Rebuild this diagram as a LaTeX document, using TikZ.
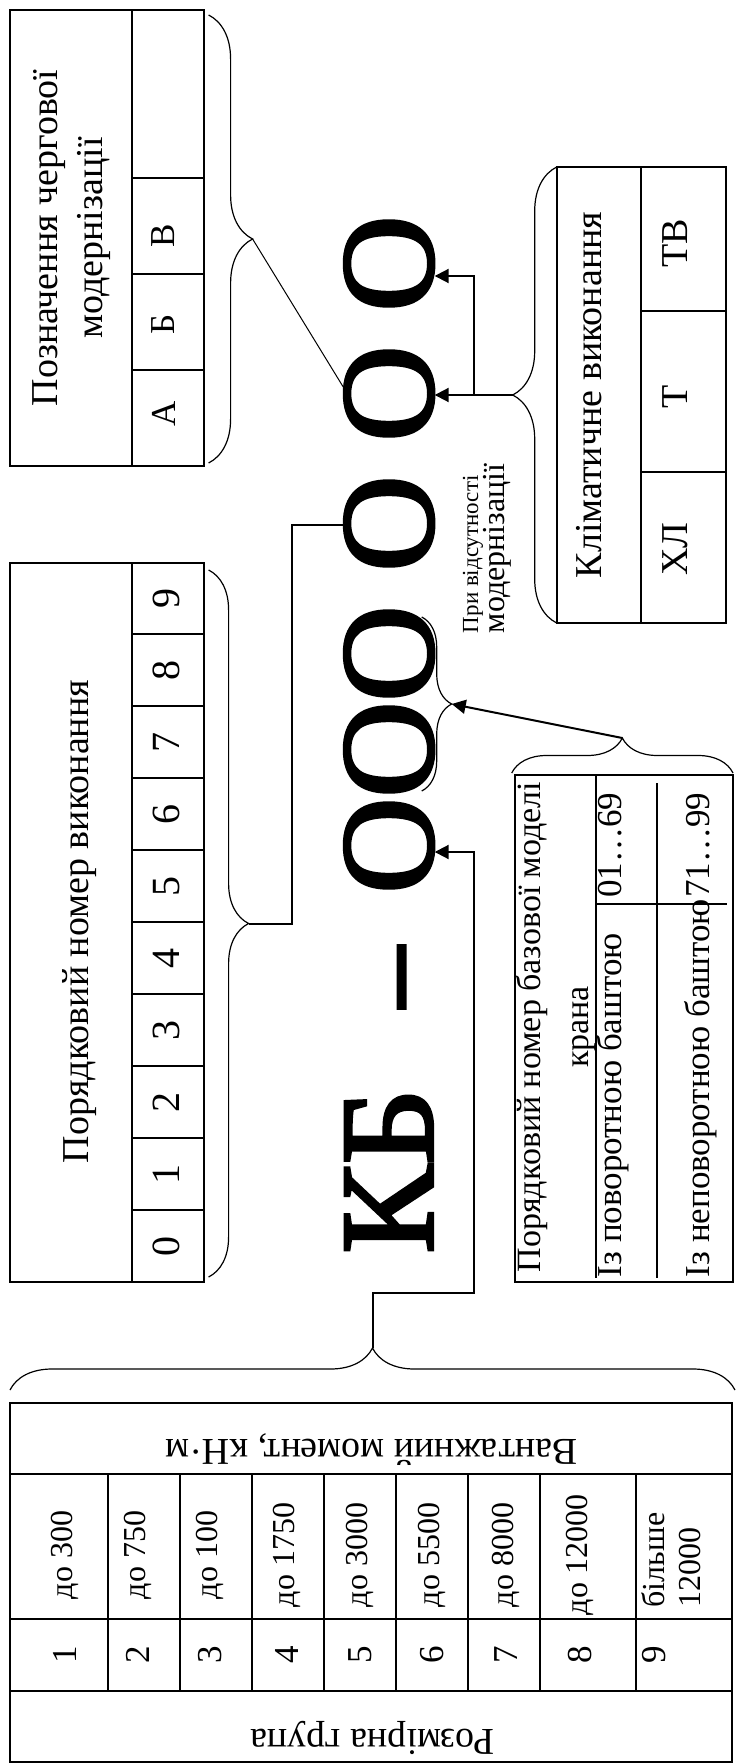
\documentclass[tikz,border=0pt]{standalone}
\usepackage{fontspec}
\setmainfont{Liberation Serif}
\font\heavyfont="Liberation Serif:embolden=2.5" at 66.5pt
\usetikzlibrary{decorations.pathreplacing,arrows.meta,calc}

\begin{document}
\begin{tikzpicture}[x=0.5pt, y=-0.5pt, line width=0.9pt,
    every node/.style={inner sep=0pt, font=\fontsize{17.5}{21}\selectfont},
    up/.style={rotate=90},
    hdr/.style={font=\fontsize{19}{22.5}\selectfont},
    sm/.style={font=\fontsize{16}{18}\selectfont},
    dig/.style={font=\fontsize{20}{24}\selectfont},
    big/.style={rotate=90, anchor=base, font=\heavyfont},
    brc/.style={decorate, decoration={brace, amplitude=#1}, line width=0.6pt},
    conn/.style={line width=1pt},
    arr/.style={-{Triangle[length=7pt,width=7pt]}, line width=1pt}]
  \useasboundingbox (0,0) rectangle (735,1764);

  % the designation itself
  \node[big] (kb) at (432.5,1171) {КБ};
  \node[big, xscale=0.92] (dash) at (432.5,977) {–};
  \node[big] (o1) at (432.5,845.5) {О};
  \node[big] (o2) at (432.5,749.5) {О};
  \node[big] (o3) at (432.5,653.5) {О};
  \node[big] (o4) at (432.5,523.5) {О};
  \node[big] (o5) at (432.5,393.5) {О};
  \node[big] (o6) at (432.5,263.5) {О};

  % Позначення чергової модернізації
  \draw (10,10) rectangle (204,466);
  \draw (132,10) -- (132,466);
  \foreach \y in {178,274,370} \draw (132,\y) -- (204,\y);
  \node[up, hdr, align=center] (mhead) at (72,238) {Позначення чергової\\модернізації};
  \node[up] (mv) at (163.5,236) {В};
  \node[up] (mb) at (163.5,324) {Б};
  \node[up] (ma) at (163.5,414) {А};
  \draw[brc=22pt] (208.6,15) -- (208.6,463);
  \coordinate (mt) at (252.6,239);

  % Порядковий номер виконання
  \draw (10,563) rectangle (204,1282);
  \draw (132,563) -- (132,1282);
  \foreach \k in {1,...,9} \draw (132,{1282-72*\k}) -- (204,{1282-72*\k});
  \foreach \k in {0,...,9} \node[up, dig] (n\k) at (166.5,{1246-72*\k}) {\k};
  \node[up, hdr, anchor=base] (nhead) at (88,921.5) {Порядковий номер виконання};
  \draw[brc=20pt] (208.6,570) -- (208.6,1277);
  \coordinate (pt) at (248.6,923.5);

  % Кліматичне виконання
  \draw (556.7,167) rectangle (726,623);
  \draw (640.7,167) -- (640.7,623);
  \foreach \y in {311,472} \draw (640.7,\y) -- (726,\y);
  \node[up, hdr, anchor=base] (khead) at (601,395) {Кліматичне виконання};
  \node[up, hdr, anchor=base] (k1) at (687,243) {ТВ};
  \node[up, hdr, anchor=base] (k2) at (687,397) {Т};
  \node[up, hdr, anchor=base] (k3) at (687,549) {ХЛ};
  \draw[brc=22pt] (556.7,623) -- (556.7,167);
  \coordinate (kt) at (512.7,395);

  % При відсутності модернізації
  \node[up, anchor=base west, font=\fontsize{11.5}{13}\selectfont] (pv1) at (478,634) {При відсутності};
  \node[up, sm, anchor=base west] (pv2) at (504,634) {модернізації};

  % Порядковий номер базової моделі
  \draw (515,775) rectangle (733,1282);
  \draw (596,775) -- (596,1278);
  \draw (656.7,783) -- (656.7,1278);
  \draw (596,904) -- (726.7,904);
  \node[up, align=center, font=\fontsize{17}{24}\selectfont] (bhead) at (556,1027) {Порядковий номер базової моделі\\крана};
  \node[up, anchor=base west] (r1) at (621,1278) {Із поворотною баштою};
  \node[up, anchor=base] (v1) at (621,845) {01…69};
  \node[up, anchor=base west] (r2) at (709,1278) {Із неповоротною баштою};
  \node[up, anchor=base] (v2) at (709,845) {71…99};
  \draw[brc=17.5pt] (511.7,773) -- (733,773);
  \coordinate (bm) at (622.3,738);
  \draw[brc=15pt] (421.7,617) -- (421.7,791);
  \coordinate (st) at (451.7,704);

  % Розмірна група / вантажний момент
  \draw (10,1403) rectangle (732,1762);
  \foreach \y in {1474,1619,1691} \draw (10,\y) -- (732,\y);
  \foreach \x in {108,180,252,324,396,468,540,636} \draw (\x,1474) -- (\x,1691);
  \node[hdr, rotate=180] (vhead) at (371.5,1450) {Вантажний момент, кН·м};
  \node[hdr, rotate=180] (rhead) at (372.6,1738) {Розмірна група};
  \foreach \x/\g/\m in {65/1/до 300, 138/2/до 750, 210/3/до 100, 287/4/до 1750,
      360/5/до 3000, 432/6/до 5500, 506/7/до 8000, 580/8/до 12000} {
    \node[up, sm] (m\g) at (\x,1555) {\m};
    \node[up] (g\g) at (\x,1655) {\g};
  }
  \node[up, sm, align=left] (m9) at (671.5,1560) {більше\\12000};
  \node[up] (g9) at (654,1655) {9};
  \draw[brc=21pt] (10,1390) -- (735,1390);
  \coordinate (bt) at (372.5,1348);

  % connectors
  \coordinate (jb) at (474,1293);
  \draw[arr] (bt) |- (jb) |- ($(o1.south)+(0,6.5)$);
  \coordinate (jp) at (292,923.5);
  \draw[conn] (pt) -- (jp) |- ($(o4.north)+(0,1.5)$);
  \draw[line width=0.5pt] (mt) -- ($(o5.north)+(0,-6)$);
  \draw[arr] (kt) -- ($(o5.south)+(0,1.5)$);
  \coordinate (jk) at (474,395);
  \draw[arr] (jk) |- ($(o6.south)+(0,12.5)$);
  \draw[arr] (bm) -- (st);
\end{tikzpicture}
\end{document}
